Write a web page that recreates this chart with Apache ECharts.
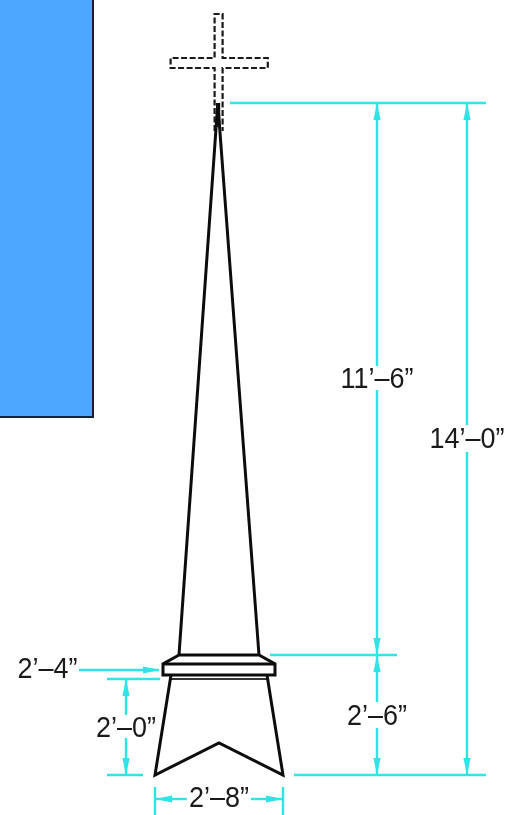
<!DOCTYPE html>
<html>
<head>
<meta charset="utf-8">
<style>html,body{margin:0;padding:0;background:#fff}#c{width:505px;height:815px}</style>
<script src="https://cdn.jsdelivr.net/npm/echarts@6/dist/echarts.min.js"></script>
</head>
<body>
<div id="c"></div>
<script>
// All lengths in inches: x from the spire centreline, y above the spire's base.
const xRange = [-54.75, 71.5];
const yRange = [-10, 193.75];

const bluePanel = [[-54.75, 193.75], [-31.5, 193.75], [-31.5, 89.5], [-54.75, 89.5]];
const crossPath = [[-1.1, 161], [-1.1, 176.75], [-12.1, 176.75], [-12.1, 179.25], [-1.1, 179.25], [-1.1, 190.25],
  [0.9, 190.25], [0.9, 179.25], [12.2, 179.25], [12.2, 176.75], [0.9, 176.75], [0.9, 161]];
const spireShaft = [[-10, 30], [-0.3, 168], [0, 168], [10, 30]];
const spireTip = [[-0.2, 168], [-0.2, 162]];
const spireBase = [[-10, 30], [10, 30], [14, 27.75], [14, 25], [-14, 25], [-14, 27.75], [-10, 30]];
const bandMiddle = [[-14, 27.75], [14, 27.75]];
const collarLine = [[-12, 24], [12, 24]];
const skirt = [[-12, 25], [-16, 0], [0, 8], [16, 0], [12, 25]];

const dimensionLines = [
  [[2.75, 168], [66.75, 168]],
  [[12.75, 30], [44.5, 30]],
  [[18.75, 0], [66.75, 0]],
  [[39.5, 168], [39.5, 102.25]],
  [[39.5, 96.25], [39.5, 30]],
  [[39.5, 30], [39.5, 18.25]],
  [[39.5, 11.75], [39.5, 0]],
  [[62, 168], [62, 87.5]],
  [[62, 80.75], [62, 0]],
  [[-35, 26.25], [-15, 26.25]],
  [[-28, 24], [-14.75, 24]],
  [[-28, 0], [-19, 0]],
  [[-23.25, 24], [-23.25, 15]],
  [[-23.25, 9.25], [-23.25, 0]],
  [[-16, -3], [-16, -10]],
  [[16, -3], [16, -10]],
  [[-16, -6], [-8, -6]],
  [[8, -6], [16, -6]]
];
// tip x, tip y, pointing direction x, y
const arrowTips = [
  [39.5, 168, 0, 1], [39.5, 30, 0, -1], [39.5, 30, 0, 1], [39.5, 0, 0, -1],
  [62, 168, 0, 1], [62, 0, 0, -1],
  [-23.25, 24, 0, 1], [-23.25, 0, 0, -1],
  [-16, -6, -1, 0], [16, -6, 1, 0],
  [-14.75, 26.25, 1, 0]
];
const dimensionLabels = [
  [-42.9, 26.2, "2’–4”"],
  [-23.25, 11.6, "2’–0”"],
  [0, -6.1, "2’–8”"],
  [39.5, 98.7, "11’–6”"],
  [62, 83.7, "14’–0”"],
  [39.5, 14.6, "2’–6”"]
];

const BLACK = '#0c0c0c', CYAN = '#2fe4e6', BLUE = '#4da6ff';
const path = (data, color, width, type) => ({
  type: 'line', data, showSymbol: false, silent: true, clip: false, z: color === CYAN ? 2 : 3,
  lineStyle: { color, width, type: type || 'solid', cap: 'butt', join: 'miter' }
});

const series = [
  {
    type: 'custom', silent: true, z: 1, data: [0], clip: false,
    renderItem: (p, api) => ({
      type: 'polygon',
      shape: { points: bluePanel.map(q => api.coord(q)) },
      style: { fill: BLUE }
    })
  },
  path(bluePanel.slice(1, 4), '#12233a', 2),
  path(crossPath, '#1a1a1a', 2.2, [6, 2.5]),
  path(spireShaft, BLACK, 3),
  path(spireTip, BLACK, 4),
  path(spireBase, BLACK, 3),
  path(bandMiddle, BLACK, 3),
  path(collarLine, '#333', 2),
  path(skirt, BLACK, 3),
  ...dimensionLines.map(d => path(d, CYAN, 2.4)),
  {
    type: 'custom', silent: true, z: 2, clip: false,
    data: arrowTips,
    encode: { x: 0, y: 1 },
    renderItem: (p, api) => {
      const t = api.coord([api.value(0), api.value(1)]);
      const dx = api.value(2), dy = -api.value(3);
      const L = 17, W = 3.6;
      return {
        type: 'polygon',
        shape: { points: [t, [t[0] - dx * L - dy * W, t[1] - dy * L + dx * W], [t[0] - dx * L + dy * W, t[1] - dy * L - dx * W]] },
        style: { fill: CYAN }
      };
    }
  },
  {
    type: 'custom', silent: true, z: 4, clip: false,
    data: dimensionLabels,
    encode: { x: 0, y: 1 },
    renderItem: (p, api) => {
      const t = api.coord([api.value(0), api.value(1)]);
      return {
        type: 'text', x: t[0], y: t[1], scaleX: 0.93,
        style: {
          text: dimensionLabels[p.dataIndex][2], fill: '#1a1a1a',
          font: '29px "Liberation Sans", Arial, sans-serif',
          align: 'center', verticalAlign: 'middle'
        }
      };
    }
  }
];

const chart = echarts.init(document.getElementById('c'), null, { renderer: 'canvas' });
chart.setOption({
  animation: false,
  backgroundColor: '#fff',
  grid: { left: 0, right: 0, top: 0, bottom: 0 },
  xAxis: { type: 'value', min: xRange[0], max: xRange[1], show: false },
  yAxis: { type: 'value', min: yRange[0], max: yRange[1], show: false },
  series
});
</script>
</body>
</html>
